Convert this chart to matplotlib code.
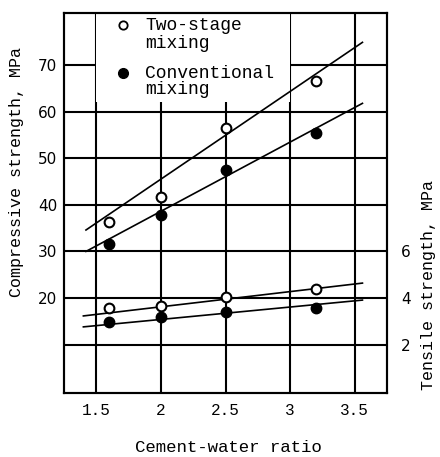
import numpy as np
import matplotlib
matplotlib.use("Agg")
import matplotlib.pyplot as plt
from matplotlib.patches import Rectangle

# ---- data ----------------------------------------------------------------
cw_ratio = [1.6, 2.0, 2.5, 3.2]

comp_two_stage    = [36.3, 41.7, 56.5, 66.6]   # MPa
comp_conventional = [31.6, 37.8, 47.5, 55.4]
tens_two_stage    = [3.57, 3.66, 4.04, 4.38]   # MPa
tens_conventional = [2.96, 3.18, 3.40, 3.58]

# fitted lines as drawn (end points)
fit_x_comp         = [1.42, 3.56]
fit_comp_two       = [34.6, 74.9]
fit_comp_conv      = [30.0, 61.8]
fit_x_tens         = [1.40, 3.56]
fit_tens_two       = [3.23, 4.64]
fit_tens_conv      = [2.76, 3.91]

x_ticks  = [1.5, 2.0, 2.5, 3.0, 3.5]
x_labels = ['1.5', '2', '2.5', '3', '3.5']
y_ticks  = [10, 20, 30, 40, 50, 60, 70]
y_labels = ['', '20', '30', '40', '50', '60', '70']
y2_ticks = [2, 4, 6]

MONO = 'Liberation Mono'
LW = 1.5

fig = plt.figure(figsize=(4.4, 4.57), dpi=100)
ax = fig.add_axes([64/440, 1-393/457, (387-64)/440, (393-13)/457])
ax.set_xlim(1.25, 3.75)
ax.set_ylim(-0.4, 81.2)
ax2 = ax.twinx()
ax2.set_ylim(-0.4/5, 81.2/5)

ax.set_xticks(x_ticks)
ax.set_xticklabels(x_labels, family=MONO, fontsize=11.5)
ax.set_yticks(y_ticks)
ax.set_yticklabels(y_labels, family='DejaVu Sans', fontsize=11)
ax2.set_yticks(y2_ticks)
ax2.set_yticklabels([str(v) for v in y2_ticks], family='DejaVu Sans', fontsize=11)
ax.tick_params(length=0, pad=5)
ax.tick_params(axis='x', pad=7)
ax2.tick_params(length=0, pad=10)

ax.grid(True, color='black', lw=LW)
ax.set_axisbelow(True)
for a in (ax, ax2):
    for s in a.spines.values():
        s.set_linewidth(LW)

# white legend area hides grid behind it
ax.add_patch(Rectangle((1.5, 62.0), 1.5, 81.2 - 62.0, facecolor='white',
                       edgecolor='none', zorder=1))

# compressive
ax.plot(fit_x_comp, fit_comp_two, color='black', lw=1.2, zorder=2)
ax.plot(fit_x_comp, fit_comp_conv, color='black', lw=1.2, zorder=2)
ax.plot(cw_ratio, comp_two_stage, 'o', ms=7, mfc='white', mec='black',
        mew=1.5, zorder=3)
ax.plot(cw_ratio, comp_conventional, 'o', ms=7.5, mfc='black', mec='black',
        zorder=3)

# tensile
ax2.plot(fit_x_tens, fit_tens_two, color='black', lw=1.2, zorder=2)
ax2.plot(fit_x_tens, fit_tens_conv, color='black', lw=1.2, zorder=2)
ax2.plot(cw_ratio, tens_two_stage, 'o', ms=7, mfc='white', mec='black',
         mew=1.5, zorder=3)
ax2.plot(cw_ratio, tens_conventional, 'o', ms=7.5, mfc='black', mec='black',
         zorder=3)

# legend (manual)
T = ax.transAxes
def px(xp, yp):
    return ((xp - 64) / 323, (393 - yp) / 380)
ax.plot(*px(123, 25), 'o', ms=6, mfc='white', mec='black', mew=1.3,
        transform=T, clip_on=False, zorder=4)
ax.plot(*px(123, 73), 'o', ms=7, mfc='black', mec='black',
        transform=T, clip_on=False, zorder=4)
for yp, txt in [(25, 'Two-stage'), (43, 'mixing'),
                (73, 'Conventional'), (90, 'mixing')]:
    ax.text(*px(145, yp), txt, transform=T, family=MONO, fontsize=13,
            va='center', ha='left', zorder=4)

fig.text(17/440, 1-172/457, 'Compressive strength, MPa', rotation=90,
         family=MONO, fontsize=12, ha='center', va='center')
fig.text(428/440, 1-285/457, 'Tensile strength, MPa', rotation=90,
         family=MONO, fontsize=12, ha='center', va='center')
fig.text(228/440, 1-448/457, 'Cement-water ratio', family=MONO,
         fontsize=12.5, ha='center', va='center')

fig.savefig('out.png', dpi=100)
